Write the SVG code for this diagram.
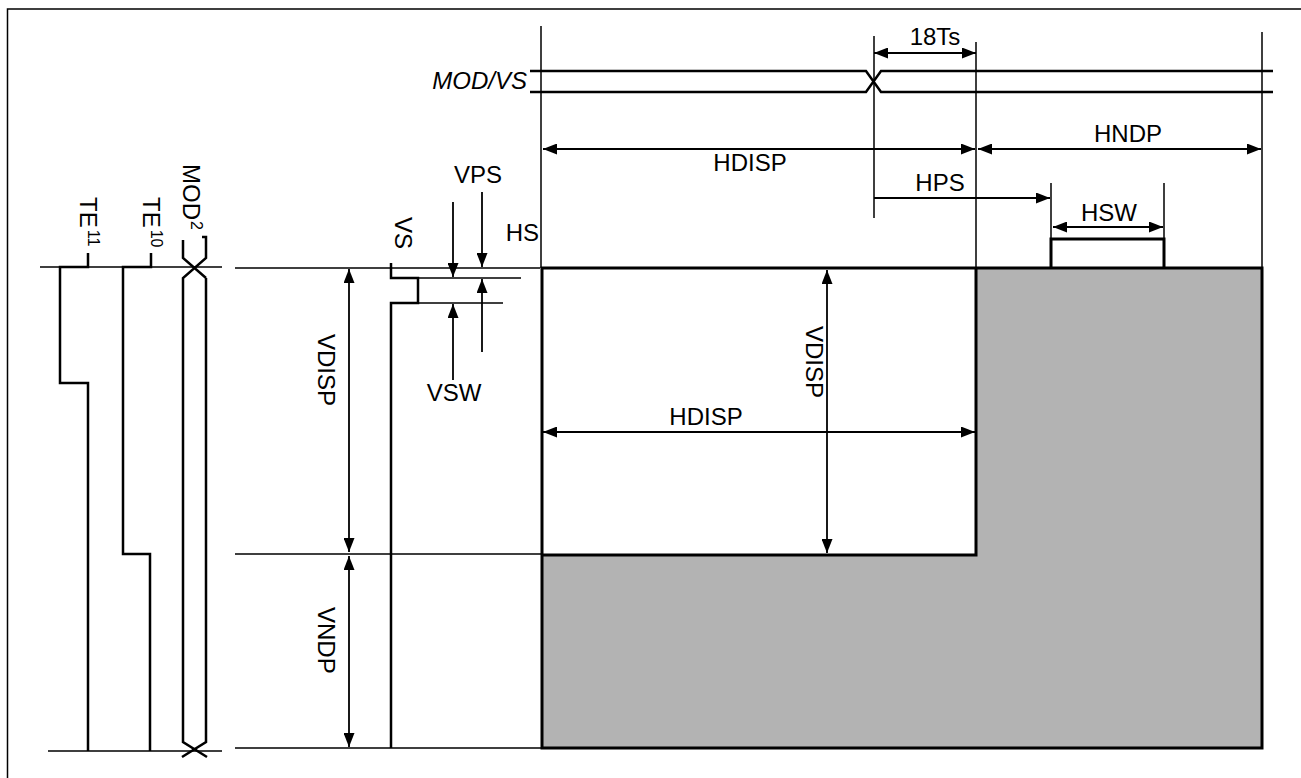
<svg xmlns="http://www.w3.org/2000/svg" width="1301" height="778" viewBox="0 0 1301 778">
<style>
text{font-family:"Liberation Sans",Arial,sans-serif;font-size:24px;fill:#000}
.t{stroke:#000;stroke-width:1.5;fill:none}
.w{stroke:#000;stroke-width:2.5;fill:none}
.k{stroke:#000;stroke-width:3;fill:none}
.ar{stroke:#000;stroke-width:1.8;fill:none;marker-end:url(#a)}
.dr{stroke:#000;stroke-width:1.8;fill:none;marker-start:url(#a);marker-end:url(#a)}
.sup{font-size:16px}
</style>
<defs>
<marker id="a" viewBox="0 0 14 11" refX="14" refY="5.5" markerWidth="14" markerHeight="11" markerUnits="userSpaceOnUse" orient="auto-start-reverse"><path d="M0,0 L14,5.5 L0,11 z" fill="#000"/></marker>
</defs>
<rect width="1301" height="778" fill="#fff"/>
<path class="t" d="M7.5,778 V9 H1301"/>

<g id="display-area">
<path d="M542,268 H1262 V748 H542 Z" fill="#b3b3b3"/>
<rect x="542" y="268" width="434" height="287" fill="#fff"/>
<path class="k" d="M542,268 H1262 V748 H542 Z"/>
<path class="k" d="M976,268 V555 H542"/>
<path class="k" d="M1051,268 V239 H1164 V268"/>
</g>

<g id="guides">
<path class="t" d="M541,26 V268 M874,36 V218 M976,42 V268 M1262,32 V268 M1051,183 V239 M1164,183 V239"/>
<path class="t" d="M40,267 H222 M48,751 H222 M235,268 H540 M235,554 H542 M235,748 H542 M418,278 H521 M418,303 H503"/>
</g>

<g id="mod-vs-bus">
<path class="w" stroke-width="2" d="M530,71 H866 L881,92 H1273 M530,92 H866 L881,71 H1273"/>
<text x="527" y="89" text-anchor="end" font-style="italic">MOD/VS</text>
</g>

<g id="te11">
<path class="w" d="M88,253 V267 H60 V383 H88 V751"/>
<text transform="translate(80,197) rotate(90)">TE<tspan class="sup" dx="2" dy="-8">11</tspan></text>
</g>
<g id="te10">
<path class="w" d="M151,253 V267 H123 V554 H150 V751"/>
<text transform="translate(143,197) rotate(90)">TE<tspan class="sup" dx="2" dy="-8">10</tspan></text>
</g>
<g id="mod2">
<path class="w" d="M183,240 V258 L206,278 M202,237 H206 V258 L183,278 V742 L207,757 M206,278 V742 L182,757"/>
<text transform="translate(183,164) rotate(90)">MOD<tspan class="sup" dx="1" dy="-8">2</tspan></text>
</g>
<g id="vs">
<path class="w" stroke-width="2" d="M391,263 V278 H418 V303 H391 V748"/>
<text transform="translate(395,217) rotate(90)">VS</text>
</g>

<g id="connectors">
<path class="dr" d="M874,53 H976"/>
<path class="dr" d="M543,149 H975"/>
<path class="dr" d="M978,149 H1261"/>
<path class="ar" d="M874,198 H1050"/>
<path class="dr" d="M1053,227 H1163"/>
<path class="dr" d="M543,432 H975"/>
<path class="dr" d="M827,270 V553"/>
<path class="dr" d="M349,269 V552"/>
<path class="dr" d="M349,556 V747"/>
<path class="ar" d="M482,192 V267"/>
<path class="ar" d="M453,202 V277"/>
<path class="ar" d="M482,352 V279"/>
<path class="ar" d="M453,380 V304"/>
</g>

<g id="labels">
<text x="935" y="45" text-anchor="middle">18Ts</text>
<text x="750" y="171" text-anchor="middle">HDISP</text>
<text x="1128" y="142" text-anchor="middle">HNDP</text>
<text x="940" y="191" text-anchor="middle">HPS</text>
<text x="1109" y="221" text-anchor="middle">HSW</text>
<text x="539" y="241" text-anchor="end">HS</text>
<text x="478" y="183" text-anchor="middle">VPS</text>
<text x="454" y="401" text-anchor="middle">VSW</text>
<text x="706" y="425" text-anchor="middle">HDISP</text>
<text transform="translate(806,326) rotate(90)">VDISP</text>
<text transform="translate(318,334) rotate(90)">VDISP</text>
<text transform="translate(318,607) rotate(90)">VNDP</text>
</g>
</svg>
